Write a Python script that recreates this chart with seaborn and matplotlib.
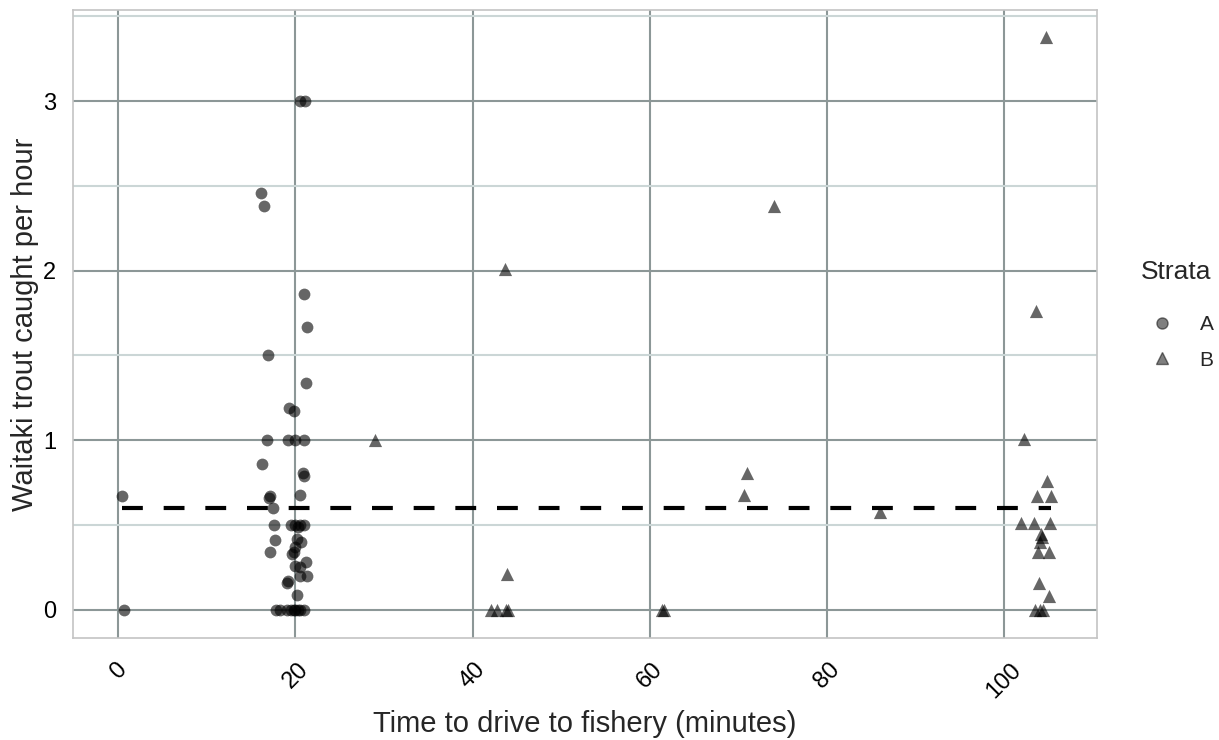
import matplotlib
matplotlib.use("Agg")
import matplotlib.pyplot as plt
from matplotlib.lines import Line2D
import pandas as pd
import seaborn as sns

# Strata A: drive time (minutes) and trout caught per hour
drive_a = [0.4, 0.6, 20.5, 21.1, 16.1, 16.5, 21.0, 21.3, 16.9, 21.2,
           19.3, 19.8, 16.8, 19.2, 20.0, 21.0, 16.2, 20.9, 21.0, 20.5,
           17.1, 17.0, 17.5, 17.6, 19.5, 20.0, 20.5, 21.0, 20.3, 17.7,
           20.2, 20.6, 20.0, 17.1, 19.8, 19.6, 21.2, 20.0, 20.5, 20.5,
           21.3, 19.2, 19.0, 20.2, 17.8, 18.2, 19.0, 19.5, 20.0, 20.5,
           21.0, 19.8, 20.3]
rate_a = [0.67, 0.0, 3.0, 3.0, 2.46, 2.38, 1.86, 1.67, 1.50, 1.34,
          1.19, 1.17, 1.0, 1.0, 1.0, 1.0, 0.86, 0.81, 0.79, 0.68,
          0.67, 0.66, 0.60, 0.50, 0.50, 0.50, 0.50, 0.50, 0.49, 0.41,
          0.42, 0.40, 0.37, 0.34, 0.34, 0.33, 0.28, 0.26, 0.25, 0.20,
          0.20, 0.17, 0.16, 0.09, 0.0, 0.0, 0.0, 0.0, 0.0, 0.0,
          0.0, 0.0, 0.0]

# Strata B
drive_b = [29.0, 43.6, 43.9, 42.1, 42.7, 43.8, 44.0, 61.4, 61.6, 74.0,
           71.0, 70.6, 86.0, 104.7, 103.6, 102.3, 104.9, 103.7, 105.3, 101.9,
           103.4, 105.2, 104.2, 104.3, 104.0, 103.8, 105.1, 103.9, 105.1, 103.5,
           104.0, 104.4]
rate_b = [1.0, 2.01, 0.21, 0.0, 0.0, 0.0, 0.0, 0.0, 0.0, 2.38,
          0.81, 0.68, 0.58, 3.38, 1.76, 1.01, 0.76, 0.67, 0.67, 0.51,
          0.51, 0.51, 0.45, 0.43, 0.40, 0.34, 0.34, 0.16, 0.08, 0.0,
          0.0, 0.0]

mean_rate = 0.6
x_ticks = [0, 20, 40, 60, 80, 100]
y_ticks = [0, 1, 2, 3]
y_minor = [0.5, 1.5, 2.5, 3.5]

df = pd.DataFrame({
    'drive': drive_a + drive_b,
    'rate': rate_a + rate_b,
    'Strata': ['A'] * len(drive_a) + ['B'] * len(drive_b),
})

sns.set_theme(style='white')
plt.rcParams['font.family'] = ['Liberation Sans', 'DejaVu Sans']

fig, ax = plt.subplots(figsize=(12.19, 7.40), dpi=100)
fig.subplots_adjust(left=0.060, right=0.900, bottom=0.138, top=0.986)

# grid like the ggplot theme: dark major lines, pale minor horizontals
ax.set_axisbelow(True)
ax.set_xticks(x_ticks)
ax.set_yticks(y_ticks)
ax.set_yticks(y_minor, minor=True)
ax.grid(which='major', color='#8c9797', linewidth=1.5)
ax.grid(which='minor', axis='y', color='#cbd6d6', linewidth=1.5)

sns.scatterplot(data=df[df['Strata'] == 'A'], x='drive', y='rate', marker='o',
                color='black', alpha=0.6, s=72, linewidth=0, ax=ax)
sns.scatterplot(data=df[df['Strata'] == 'B'], x='drive', y='rate', marker='^',
                color='black', alpha=0.6, s=90, linewidth=0, ax=ax)

ax.hlines(mean_rate, min(df['drive']), max(df['drive']), colors='black',
          linewidth=3, linestyles=(0, (5, 5)))

ax.set_xlim(-5.1, 110.5)
ax.set_ylim(-0.165, 3.535)

for sp in ax.spines.values():
    sp.set_color('#c4c4c4')
    sp.set_linewidth(1.2)

ax.tick_params(which='major', length=6, width=1, color='#b0b0b0',
               labelsize=17, labelcolor='black')
ax.tick_params(which='minor', length=0)
plt.setp(ax.get_xticklabels(), rotation=45, ha='center', va='top')
ax.tick_params(axis='x', pad=9)
ax.tick_params(axis='y', pad=6)

ax.set_xlabel('Time to drive to fishery (minutes)', fontsize=21, labelpad=6)
ax.set_ylabel('Waitaki trout caught per hour', fontsize=21, labelpad=3)

handles = [
    Line2D([], [], marker='o', linestyle='', color='black', alpha=0.5, markersize=8),
    Line2D([], [], marker='^', linestyle='', color='black', alpha=0.5, markersize=9),
]
leg = ax.legend(handles, ['A', 'B'], title='Strata', loc='upper left',
                bbox_to_anchor=(1.035, 0.615), frameon=False, fontsize=15,
                title_fontsize=19, handlelength=2.0, handletextpad=0.8,
                labelspacing=0.8, borderaxespad=0)
leg._legend_box.align = 'left'
leg._legend_box.sep = 22

fig.savefig('out.png', dpi=100)
